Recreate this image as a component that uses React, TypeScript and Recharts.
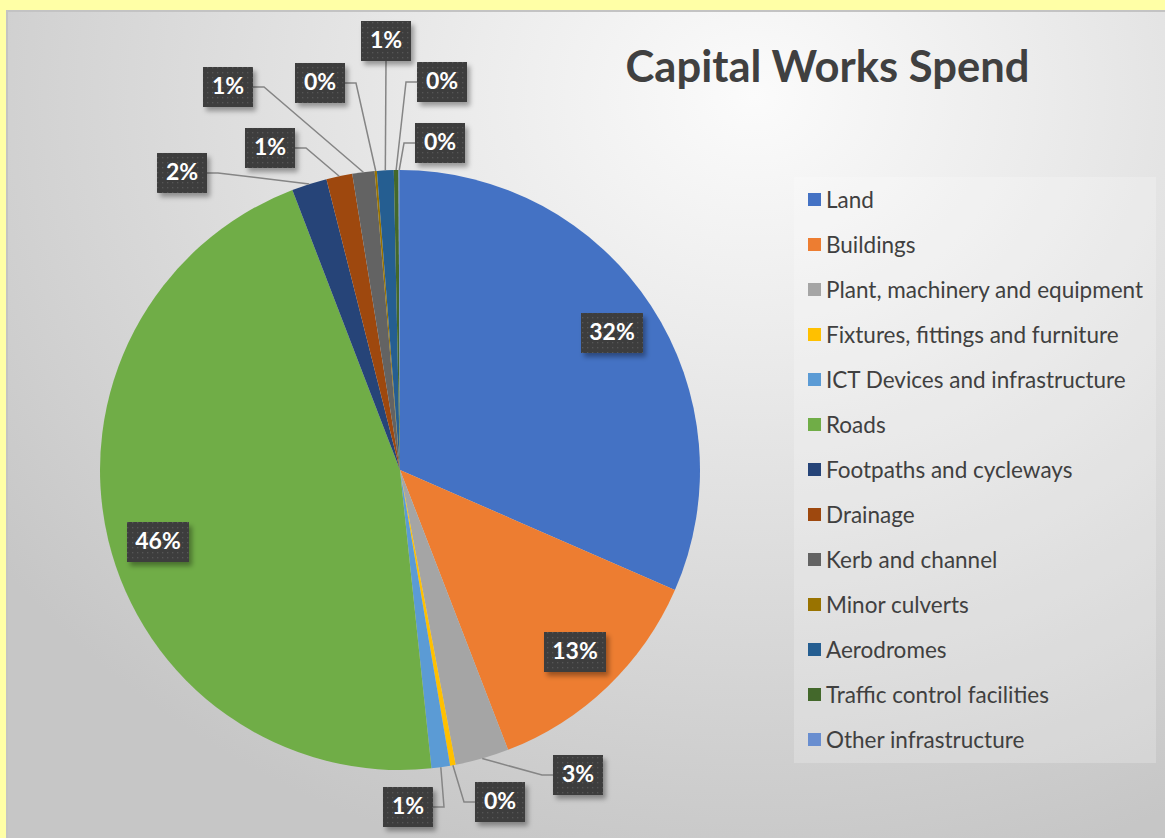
import React from "react";
import { PieChart, Pie, Cell, Legend } from "recharts";

const categories = [
  "Land",
  "Buildings",
  "Plant, machinery and equipment",
  "Fixtures, fittings and furniture",
  "ICT Devices and infrastructure",
  "Roads",
  "Footpaths and cycleways",
  "Drainage",
  "Kerb and channel",
  "Minor culverts",
  "Aerodromes",
  "Traffic control facilities",
  "Other infrastructure",
];

const spendValues = [31.6, 12.6, 2.9, 0.3, 1.0, 45.9, 1.9, 1.4, 1.2, 0.12, 0.9, 0.25, 0.08];

const colors = [
  "#4472C4", "#ED7D31", "#A5A5A5", "#FFC000", "#5B9BD5", "#70AD47",
  "#264478", "#9E480E", "#636363", "#997300", "#255E91", "#43682B", "#698ED0",
];

// Label layout: box centre offset from pie centre and side where the leader line attaches
const labelLayout: { dx: number; dy: number; side: string }[] = [
  { dx: 212, dy: -137, side: "none" },
  { dx: 175, dy: 182, side: "none" },
  { dx: 178, dy: 305, side: "left" },
  { dx: 100, dy: 332, side: "left" },
  { dx: 8, dy: 337, side: "right" },
  { dx: -242, dy: 72, side: "none" },
  { dx: -218, dy: -297, side: "right" },
  { dx: -130, dy: -322, side: "right" },
  { dx: -172, dy: -383, side: "right" },
  { dx: -80, dy: -387, side: "right" },
  { dx: -14, dy: -429, side: "bottom" },
  { dx: 42, dy: -388, side: "left" },
  { dx: 40, dy: -327, side: "left" },
];

const data = categories.map((name, i) => ({ name, value: spendValues[i] }));

const RAD = Math.PI / 180;
const FONT = "Lato, 'Noto Sans', sans-serif";

const renderLabel = (props: any) => {
  const { cx, cy, midAngle, outerRadius, percent, index } = props;
  const lay = labelLayout[index];
  const text = `${Math.round(percent * 100)}%`;
  const w = text.length === 3 ? 62 : 50;
  const h = 40;
  const bx = cx + lay.dx;
  const by = cy + lay.dy;
  const ax = cx + outerRadius * Math.cos(-midAngle * RAD);
  const ay = cy + outerRadius * Math.sin(-midAngle * RAD);
  let path = "";
  if (lay.side === "left") {
    const sx = bx - w / 2;
    path = `M${sx},${by} L${sx - 11},${by} L${ax},${ay}`;
  } else if (lay.side === "right") {
    const sx = bx + w / 2;
    path = `M${sx},${by} L${sx + 11},${by} L${ax},${ay}`;
  } else if (lay.side === "bottom") {
    path = `M${bx},${by + h / 2} L${ax},${ay}`;
  }
  return (
    <g key={`lbl-${index}`}>
      {index === 0 && (
        <defs>
          <pattern id="dots" width="5" height="5" patternUnits="userSpaceOnUse">
            <rect width="5" height="5" fill="#3d3d3d" />
            <rect x="2" y="2" width="1.3" height="1.3" fill="#575757" />
          </pattern>
          <filter id="shadow" x="-30%" y="-30%" width="160%" height="160%">
            <feDropShadow dx="3" dy="4" stdDeviation="2.5" floodColor="#000" floodOpacity="0.35" />
          </filter>
        </defs>
      )}
      {path && <path d={path} stroke="#858585" strokeWidth={1.5} fill="none" />}
      <rect x={bx - w / 2} y={by - h / 2} width={w} height={h} fill="url(#dots)" filter="url(#shadow)" />
      <text
        x={bx}
        y={by + 1}
        textAnchor="middle"
        dominantBaseline="middle"
        fill="#ffffff"
        fontFamily={FONT}
        fontWeight={700}
        fontSize={23}
      >
        {text}
      </text>
    </g>
  );
};

const renderLegend = () => (
  <div
    style={{
      width: 362,
      height: 586,
      background: "rgba(255,255,255,0.22)",
      boxSizing: "border-box",
      paddingTop: 0,
      fontFamily: FONT,
    }}
  >
    {categories.map((c, i) => (
      <div key={c} style={{ display: "flex", alignItems: "center", height: 45, paddingLeft: 14 }}>
        <span style={{ width: 13, height: 13, background: colors[i], display: "inline-block", marginRight: 5, flexShrink: 0 }} />
        <span style={{ fontSize: 22.5, color: "#404040", whiteSpace: "nowrap" }}>{c}</span>
      </div>
    ))}
  </div>
);

export default function App() {
  return (
    <div
      style={{
        position: "absolute",
        left: 0,
        top: 0,
        width: 1165,
        height: 838,
        background: "#FFFFA6",
        overflow: "hidden",
      }}
    >
      <div
        style={{
          position: "absolute",
          left: 6,
          top: 10,
          width: 1165,
          height: 840,
          borderTop: "2px solid #c3c3c3",
          borderLeft: "2px solid #c3c3c3",
          background:
            "radial-gradient(ellipse 80% 95% at 64% 10%, #fbfbfb 0%, #ececec 30%, #d9d9d9 65%, #c6c6c6 100%)",
        }}
      />
      <div
        style={{
          position: "absolute",
          left: 600,
          top: 37,
          width: 455,
          textAlign: "center",
          fontFamily: FONT,
          fontWeight: 700,
          fontSize: 43.5,
          color: "#404040",
          lineHeight: "56px",
          whiteSpace: "nowrap",
        }}
      >
        Capital Works Spend
      </div>
      <PieChart
        width={1165}
        height={838}
        margin={{ top: 0, right: 0, bottom: 0, left: 0 }}
        style={{ position: "absolute", left: 0, top: 0 }}
      >
        <Pie
          data={data}
          dataKey="value"
          nameKey="name"
          cx={400}
          cy={470}
          outerRadius={300}
          startAngle={90}
          endAngle={-270}
          stroke="none"
          isAnimationActive={false}
          label={renderLabel}
          labelLine={false}
        >
          {data.map((d, i) => (
            <Cell key={d.name} fill={colors[i]} />
          ))}
        </Pie>
        <Legend
          layout="vertical"
          align="right"
          verticalAlign="top"
          content={renderLegend}
          wrapperStyle={{ left: 794, top: 177, width: 362, height: 586, right: "auto", bottom: "auto" }}
        />
      </PieChart>
    </div>
  );
}
